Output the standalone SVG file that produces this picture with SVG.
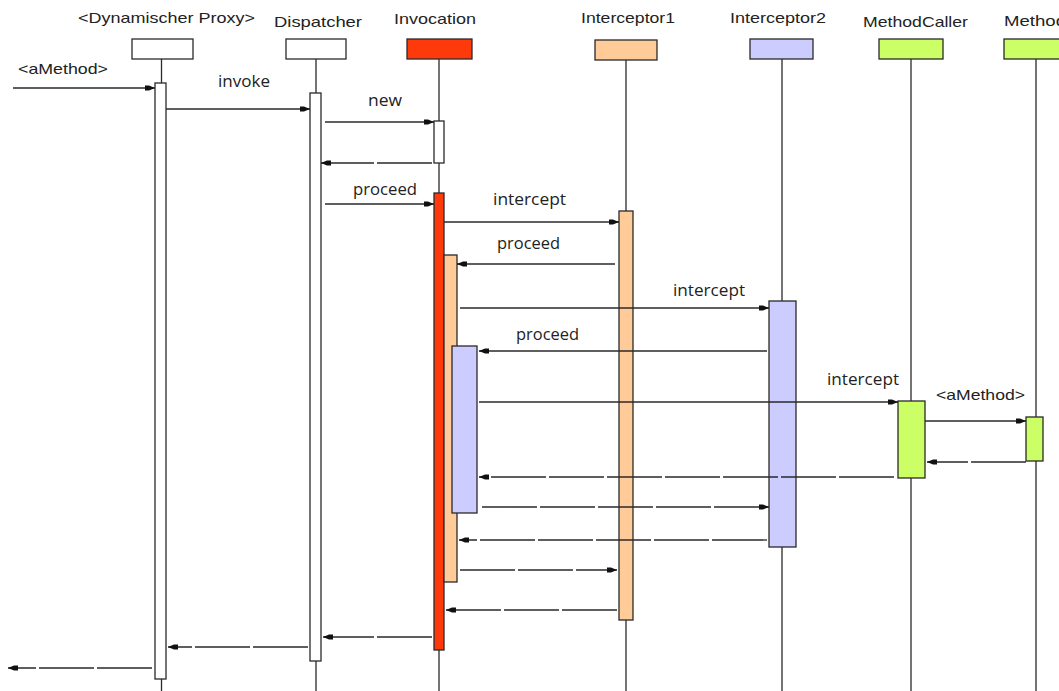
<svg xmlns="http://www.w3.org/2000/svg" width="1059" height="691" viewBox="0 0 1059 691">
<style>
.bg{fill:#ffffff}
.life{stroke:#2a2a2a;stroke-width:1.3;fill:none}
.box{stroke:#2a2a2a;stroke-width:1.3}
.act{stroke:#2a2a2a;stroke-width:1.3}
.w{fill:#ffffff}
.red{fill:#ff3a0a}
.peach{fill:#ffcc99}
.lav{fill:#ccccff}
.green{fill:#ccff66}
.hdr{font-family:"Liberation Sans",Arial,sans-serif;font-size:15px;fill:#222}
.lbl{font-family:"Open Sans","DejaVu Sans",sans-serif;font-size:16px;fill:#222}
.call{stroke:#2a2a2a;stroke-width:1.3;fill:none;marker-end:url(#ah)}
.ret{stroke:#2a2a2a;stroke-width:1.3;fill:none;stroke-dasharray:55 3;marker-end:url(#ah)}
</style>
<defs>
<marker id="ah" markerUnits="userSpaceOnUse" markerWidth="12" markerHeight="8" refX="10" refY="4" orient="auto">
<path d="M0,1.5 L4,1.5 L10,4 L4,6.5 L0,6.5 Z" fill="#111"/>
</marker>
</defs>
<rect class="bg" x="0" y="0" width="1059" height="691"/>

<g id="proxy">
<text class="hdr" x="78" y="23" textLength="177" lengthAdjust="spacingAndGlyphs">&lt;Dynamischer Proxy&gt;</text>
<rect class="box w" x="132" y="39" width="61" height="20"/>
<line class="life" x1="161.5" y1="59" x2="161.5" y2="691"/>
<rect class="act w" x="155" y="83" width="11" height="596"/>
</g>

<g id="dispatcher">
<text class="hdr" x="274" y="27" textLength="88" lengthAdjust="spacingAndGlyphs">Dispatcher</text>
<rect class="box w" x="286" y="39" width="60" height="20"/>
<line class="life" x1="316" y1="59" x2="316" y2="691"/>
<rect class="act w" x="310" y="93" width="11" height="568"/>
</g>

<g id="invocation">
<text class="hdr" x="394" y="24" textLength="82" lengthAdjust="spacingAndGlyphs">Invocation</text>
<rect class="box red" x="407" y="39" width="65" height="20"/>
<line class="life" x1="439" y1="59" x2="439" y2="691"/>
<rect class="act w" x="434" y="121" width="10" height="42"/>
<rect class="act red" x="434" y="193" width="10" height="457"/>
<rect class="act peach" x="444" y="255" width="13" height="327"/>
<rect class="act lav" x="452" y="346" width="25" height="167"/>
</g>

<g id="interceptor1">
<text class="hdr" x="581" y="23" textLength="94" lengthAdjust="spacingAndGlyphs">Interceptor1</text>
<rect class="box peach" x="595" y="40" width="62" height="20"/>
<line class="life" x1="626" y1="60" x2="626" y2="691"/>
<rect class="act peach" x="619" y="211" width="14" height="409"/>
</g>

<g id="interceptor2">
<text class="hdr" x="730" y="23" textLength="96" lengthAdjust="spacingAndGlyphs">Interceptor2</text>
<rect class="box lav" x="750" y="39" width="63" height="20"/>
<line class="life" x1="782" y1="59" x2="782" y2="691"/>
<rect class="act lav" x="769" y="301" width="27" height="246"/>
</g>

<g id="methodcaller">
<text class="hdr" x="863" y="27" textLength="105" lengthAdjust="spacingAndGlyphs">MethodCaller</text>
<rect class="box green" x="879" y="39" width="64" height="20"/>
<line class="life" x1="911" y1="59" x2="911" y2="691"/>
<rect class="act green" x="898" y="401" width="27" height="77"/>
</g>

<g id="method">
<text class="hdr" x="1004" y="26" textLength="62" lengthAdjust="spacingAndGlyphs">Method</text>
<rect class="box green" x="1004" y="39" width="60" height="20"/>
<line class="life" x1="1036" y1="59" x2="1036" y2="691"/>
<rect class="act green" x="1026" y="417" width="17" height="44"/>
</g>

<g id="connectors">
<path class="call" d="M13,88 H155"/>
<path class="call" d="M166,109 H310"/>
<path class="call" d="M325,122 H434"/>
<path class="ret" d="M432,163 H321"/>
<path class="call" d="M325,204 H434"/>
<path class="call" d="M444,222 H619"/>
<path class="call" d="M615,264 H457"/>
<path class="call" d="M460,308 H769"/>
<path class="call" d="M767,351 H479"/>
<path class="call" d="M479,402 H898"/>
<path class="call" d="M925,421 H1026"/>
<path class="ret" d="M1026,462 H927"/>
<path class="ret" d="M894,477 H479"/>
<path class="ret" d="M482,507 H769"/>
<path class="ret" d="M767,540 H459"/>
<path class="ret" d="M460,570 H617"/>
<path class="ret" d="M617,610 H446"/>
<path class="ret" d="M432,637 H323"/>
<path class="ret" d="M308,647 H168"/>
<path class="ret" d="M152,668 H8"/>
</g>

<g id="labels">
<text class="hdr" x="18" y="74" textLength="90" lengthAdjust="spacingAndGlyphs">&lt;aMethod&gt;</text>
<text class="lbl" x="218" y="87" textLength="52" lengthAdjust="spacingAndGlyphs">invoke</text>
<text class="lbl" x="368" y="106" textLength="34" lengthAdjust="spacingAndGlyphs">new</text>
<text class="lbl" x="353" y="195" textLength="64" lengthAdjust="spacingAndGlyphs">proceed</text>
<text class="lbl" x="493" y="205" textLength="73" lengthAdjust="spacingAndGlyphs">intercept</text>
<text class="lbl" x="497" y="249" textLength="63" lengthAdjust="spacingAndGlyphs">proceed</text>
<text class="lbl" x="673" y="296" textLength="72" lengthAdjust="spacingAndGlyphs">intercept</text>
<text class="lbl" x="516" y="340" textLength="63" lengthAdjust="spacingAndGlyphs">proceed</text>
<text class="lbl" x="827" y="385" textLength="72" lengthAdjust="spacingAndGlyphs">intercept</text>
<text class="hdr" x="936" y="400" textLength="89" lengthAdjust="spacingAndGlyphs">&lt;aMethod&gt;</text>
</g>
</svg>
